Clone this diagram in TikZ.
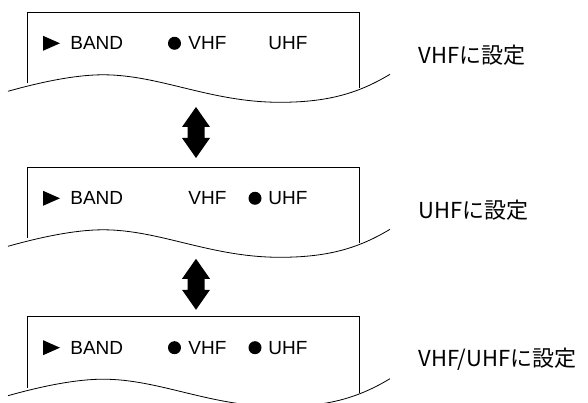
\documentclass[tikz,border=0pt]{standalone}
\usepackage{fontspec}
\setmainfont{Liberation Sans}
\newfontfamily\jpfont{Noto Sans CJK JP}
\usetikzlibrary{positioning}

\tikzset{
    panelText/.style={inner sep=0pt, font=\fontsize{19}{19}\selectfont, anchor=west},
    onDot/.style={circle, fill=black, inner sep=0pt, minimum size=13pt},
    setLabel/.style={inner sep=0pt, font=\jpfont\fontsize{22}{22}\selectfont, anchor=west}
}

% #1 name, #2 top of the panel, #3 x of the lit dots, #4 text on the right
\newcommand{\bandpanel}[4]{
    \begin{scope}[shift={(0,#2)}]
        \coordinate (#1) at (193pt,0);
        \draw (27pt,-71pt) -- (27pt,0) -- (359pt,0) -- (359pt,-76pt);
        \draw (8pt,-79pt) .. controls (40pt,-70pt) and (75pt,-62.5pt) .. (103pt,-62.5pt)
            .. controls (160pt,-62.5pt) and (210pt,-90pt) .. (280pt,-90pt)
            .. controls (330pt,-90pt) and (360pt,-80pt) .. (390pt,-62pt);
        \fill (43pt,-23.5pt) -- (60pt,-31pt) -- (43pt,-38.5pt) -- cycle;
        \node (#1_band) [panelText] at (70pt,-31pt) {BAND};
        \node (#1_vhf) [panelText] at (188pt,-31pt) {VHF};
        \node (#1_uhf) [panelText] at (268pt,-31pt) {UHF};
        \foreach \d in {#3} {
            \node [onDot] at (\d pt,-31pt) {};
        }
        \node (#1_label) [setLabel] at (418pt,-43pt) {#4};
    \end{scope}
}

% #1 name, #2 middle of the arrow
\newcommand{\bandarrow}[2]{
    \begin{scope}[shift={(196pt,#2)}]
        \coordinate (#1) at (0,0);
        \fill (0,25.5pt) -- (14pt,5.5pt) -- (8.5pt,5.5pt) -- (8.5pt,-5.5pt) -- (14pt,-5.5pt)
            -- (0,-25.5pt) -- (-14pt,-5.5pt) -- (-8.5pt,-5.5pt) -- (-8.5pt,5.5pt) -- (-14pt,5.5pt) -- cycle;
    \end{scope}
}

\begin{document}
\begin{tikzpicture}[line width=0.8pt]
    \useasboundingbox (0,0) rectangle (588pt,403pt);

    \bandpanel{panelV}{390.7pt}{174.5}{VHFに設定}
    \bandpanel{panelU}{235.7pt}{255}{UHFに設定}
    \bandpanel{panelVU}{86.3pt}{174.5,255}{VHF/UHFに設定}

    \bandarrow{arrowVU}{270.5pt}
    \bandarrow{arrowUB}{118.7pt}
\end{tikzpicture}
\end{document}
